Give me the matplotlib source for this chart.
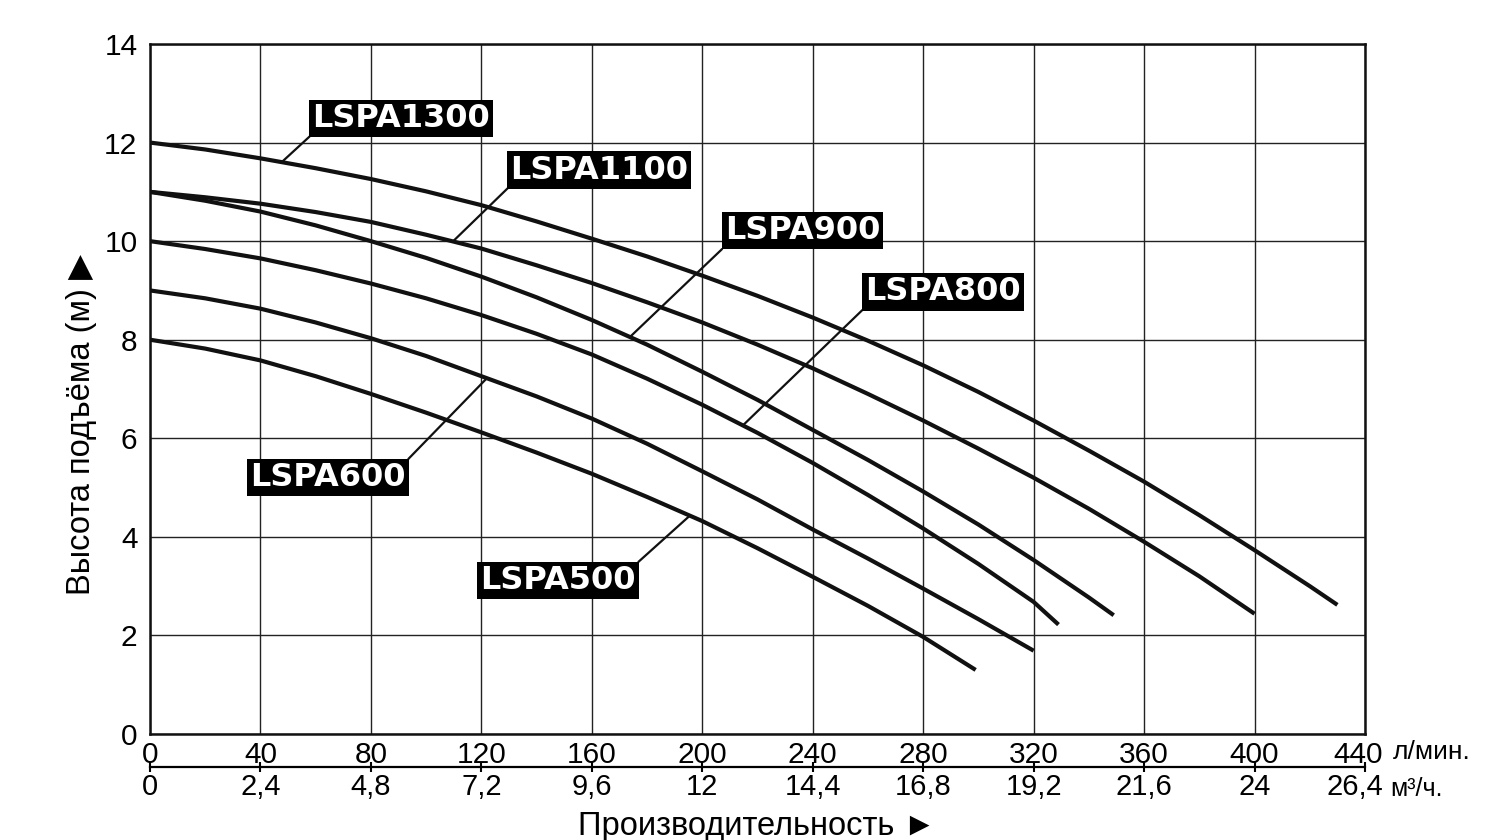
import numpy as np
import matplotlib
matplotlib.use("Agg")
import matplotlib.pyplot as plt
from matplotlib.transforms import ScaledTranslation

plt.rcParams['font.family'] = ['Liberation Sans', 'DejaVu Sans']

# -----------------------------
# DATA
# -----------------------------
flow_ticks = [0, 40, 80, 120, 160, 200, 240, 280, 320, 360, 400, 440]
m3h_labels = ["0", "2,4", "4,8", "7,2", "9,6", "12", "14,4", "16,8",
              "19,2", "21,6", "24", "26,4"]
head_ticks = [0, 2, 4, 6, 8, 10, 12, 14]

q_1300 = [0, 20, 40, 60, 80, 100, 120, 140, 160, 180, 200, 220, 240, 260,
          280, 300, 320, 340, 360, 380, 400, 420, 430]
h_1300 = [12.0, 11.86, 11.68, 11.48, 11.26, 11.01, 10.73, 10.40, 10.05, 9.69,
          9.30, 8.89, 8.45, 7.98, 7.48, 6.94, 6.36, 5.75, 5.12, 4.44, 3.73,
          3.00, 2.62]

q_1100 = [0, 20, 40, 60, 80, 100, 120, 140, 160, 180, 200, 220, 240, 260,
          280, 300, 320, 340, 360, 380, 400]
h_1100 = [11.0, 10.89, 10.76, 10.59, 10.39, 10.13, 9.85, 9.51, 9.15, 8.76,
          8.35, 7.90, 7.42, 6.90, 6.36, 5.79, 5.20, 4.57, 3.90, 3.20, 2.44]

q_900 = [0, 20, 40, 60, 80, 100, 120, 140, 160, 180, 200, 220, 240, 260,
         280, 300, 320, 340, 349]
h_900 = [11.0, 10.82, 10.60, 10.32, 10.0, 9.66, 9.28, 8.86, 8.40, 7.90,
         7.35, 6.78, 6.17, 5.56, 4.92, 4.25, 3.53, 2.77, 2.41]

q_800 = [0, 20, 40, 60, 80, 100, 120, 140, 160, 180, 200, 220, 240, 260,
         280, 300, 320, 329]
h_800 = [10.0, 9.84, 9.65, 9.41, 9.14, 8.84, 8.50, 8.12, 7.70, 7.21, 6.68,
         6.11, 5.50, 4.85, 4.17, 3.45, 2.68, 2.22]

q_600 = [0, 20, 40, 60, 80, 100, 120, 140, 160, 180, 200, 220, 240, 260,
         280, 300, 320]
h_600 = [9.0, 8.84, 8.63, 8.35, 8.03, 7.67, 7.26, 6.85, 6.40, 5.89, 5.33,
         4.76, 4.15, 3.56, 2.95, 2.33, 1.69]

q_500 = [0, 20, 40, 60, 80, 100, 120, 140, 160, 180, 200, 220, 240, 260,
         280, 299]
h_500 = [8.0, 7.82, 7.58, 7.26, 6.90, 6.52, 6.12, 5.71, 5.28, 4.81, 4.32,
         3.77, 3.19, 2.60, 1.97, 1.30]

models = ["LSPA1300", "LSPA1100", "LSPA900", "LSPA800", "LSPA600", "LSPA500"]
curves_q = [q_1300, q_1100, q_900, q_800, q_600, q_500]
curves_h = [h_1300, h_1100, h_900, h_800, h_600, h_500]

# label boxes (centre, in chart units) and where the leader touches the curve
label_q = [90.9, 162.7, 236.3, 287.1, 64.4, 147.7]
label_h = [12.49, 11.44, 10.21, 8.97, 5.21, 3.12]
leader_q = [47.7, 109.7, 173.8, 214.7, 122.0, 195.5]
leader_from_top = [False, False, False, False, True, True]

# -----------------------------
# FIGURE
# -----------------------------
W, H = 1496, 840
fig = plt.figure(figsize=(W / 100, H / 100), dpi=100)
ax = fig.add_axes([150 / W, 106 / H, 1215 / W, 690 / H])

ax.set_xlim(0, 440)
ax.set_ylim(0, 14)
ax.set_xticks(flow_ticks)
ax.set_yticks(head_ticks)
ax.grid(True, color="#222222", linewidth=1.0)
ax.set_axisbelow(True)
ax.tick_params(axis="both", length=0, labelsize=21.5)
ax.tick_params(axis="x", pad=5)
ax.tick_params(axis="y", pad=9)
for sp in ax.spines.values():
    sp.set_linewidth(1.8)
    sp.set_color("#111111")

for q, h in zip(curves_q, curves_h):
    ax.plot(q, h, color="#111111", linewidth=3.0, solid_capstyle="butt",
            zorder=3)

# second flow scale in m3/h
sec = ax.secondary_xaxis(-0.048)
sec.set_xticks(flow_ticks, labels=m3h_labels)
sec.tick_params(direction="inout", length=7, width=1.5, labelsize=21, pad=1)
for sp in sec.spines.values():
    sp.set_linewidth(1.6)

# nudge the last labels a little inwards, as on the original sheet
lab = ax.get_xticklabels()[-1]
lab.set_transform(lab.get_transform() +
                  ScaledTranslation(-0.07, 0, fig.dpi_scale_trans))
lab = sec.get_xticklabels()[-1]
lab.set_transform(lab.get_transform() +
                  ScaledTranslation(-0.10, 0, fig.dpi_scale_trans))

narrow = ['Liberation Sans Narrow', 'Liberation Sans', 'DejaVu Sans']
ax.text(1.023, -0.026, "л/мин.", transform=ax.transAxes, fontsize=19,
        family=narrow, ha="left", va="center")
ax.text(1.021, -0.079, "м³/ч.", transform=ax.transAxes, fontsize=18,
        family=narrow, ha="left", va="center")

fig.text(82 / W, 1 - 424 / H, "Высота подъёма (м) ▶", rotation=90,
         fontsize=23.5, ha="center", va="center")
fig.text(757 / W, 5 / H, "Производительность ►", fontsize=23.5,
         ha="center", va="baseline")

# -----------------------------
# MODEL LABELS
# -----------------------------
texts = []
for name, lq, lh in zip(models, label_q, label_h):
    t = ax.text(lq, lh, name, ha="center", va="center", color="white",
                fontsize=23, fontweight="bold", family="DejaVu Sans",
                bbox=dict(boxstyle="square,pad=0.1", fc="black", ec="none"),
                zorder=6)
    texts.append(t)

fig.canvas.draw()
inv = ax.transData.inverted()
for t, q, h, tq, top in zip(texts, curves_q, curves_h, leader_q,
                            leader_from_top):
    bb = t.get_bbox_patch().get_window_extent()
    corner = (bb.x1, bb.y1) if top else (bb.x0, bb.y0)
    cq, ch = inv.transform(corner)
    th = np.interp(tq, q, h)
    ax.plot([cq, tq], [ch, th], color="#111111", linewidth=1.6, zorder=4)

fig.savefig("out.png", dpi=100)
